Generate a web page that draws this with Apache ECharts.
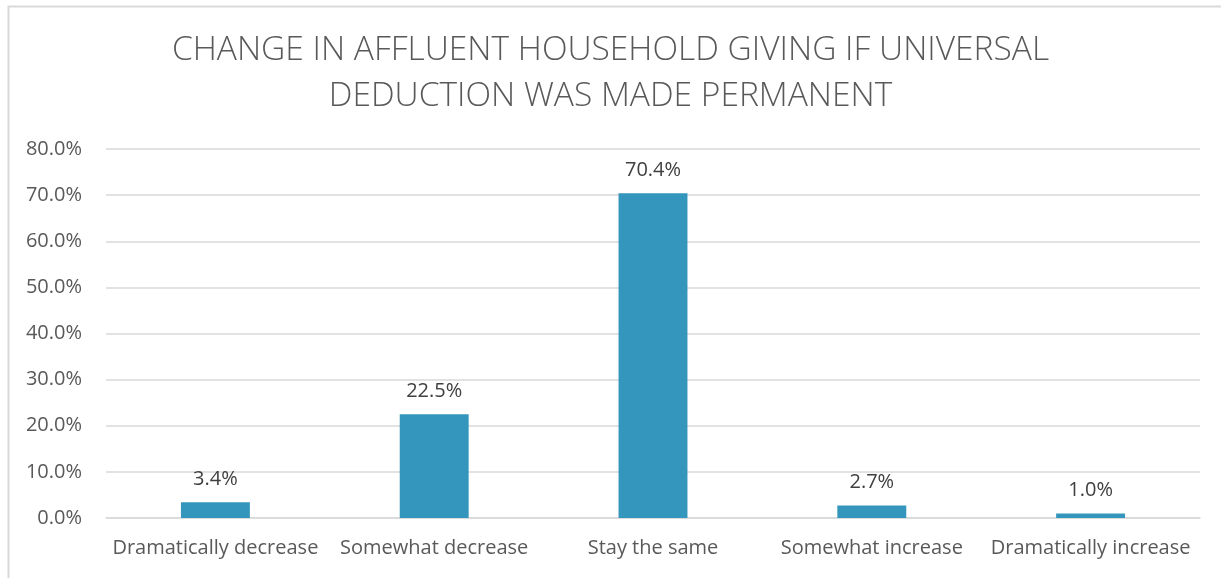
<!DOCTYPE html>
<html>
<head>
<meta charset="utf-8">
<script src="https://cdn.jsdelivr.net/npm/echarts@6/dist/echarts.min.js"></script>
<style>html,body{margin:0;padding:0;background:#fff;}#c{width:1221px;height:578px;}</style>
</head>
<body>
<div id="c"></div>
<script>
const titleText = "CHANGE IN AFFLUENT HOUSEHOLD GIVING IF UNIVERSAL\nDEDUCTION WAS MADE PERMANENT";
const categories = ["Dramatically decrease", "Somewhat decrease", "Stay the same", "Somewhat increase", "Dramatically increase"];
const values = [3.4, 22.5, 70.4, 2.7, 1.0];
const yTicks = { min: 0, max: 80, interval: 10 };

const chart = echarts.init(document.getElementById('c'), null, { renderer: 'canvas' });
const font = "'Open Sans', Lato, sans-serif";
chart.setOption({
  animation: false,
  backgroundColor: '#fff',
  graphic: [{
    type: 'rect', left: 6, top: 4,
    shape: { width: 1240, height: 600 },
    style: { fill: 'none', stroke: '#d9d9d9', lineWidth: 2 },
    silent: true, z: -1
  }],
  title: {
    text: titleText, left: 'center', top: 22,
    textStyle: { fontFamily: font, fontWeight: 300, fontSize: 33.5, color: '#595959', lineHeight: 46 }
  },
  grid: { left: 106, right: 21, top: 149, bottom: 60, containLabel: false },
  xAxis: {
    type: 'category', data: categories,
    axisLine: { show: true, lineStyle: { color: '#d9d9d9', width: 1.5 } },
    axisTick: { show: false },
    axisLabel: { fontFamily: font, fontSize: 20, color: '#595959', margin: 20, interval: 0 }
  },
  yAxis: {
    type: 'value', min: yTicks.min, max: yTicks.max, interval: yTicks.interval,
    axisLine: { show: false }, axisTick: { show: false },
    splitLine: { lineStyle: { color: '#d9d9d9', width: 1.5 } },
    axisLabel: { fontFamily: font, fontSize: 20, color: '#595959', margin: 24, formatter: v => v.toFixed(1) + '%' }
  },
  series: [{
    type: 'bar', data: values, barWidth: '31.5%',
    itemStyle: { color: '#3496bc' },
    label: { show: true, position: 'top', distance: 13, fontFamily: font, fontSize: 20, color: '#404040', formatter: p => p.value.toFixed(1) + '%' }
  }]
});
</script>
</body>
</html>
